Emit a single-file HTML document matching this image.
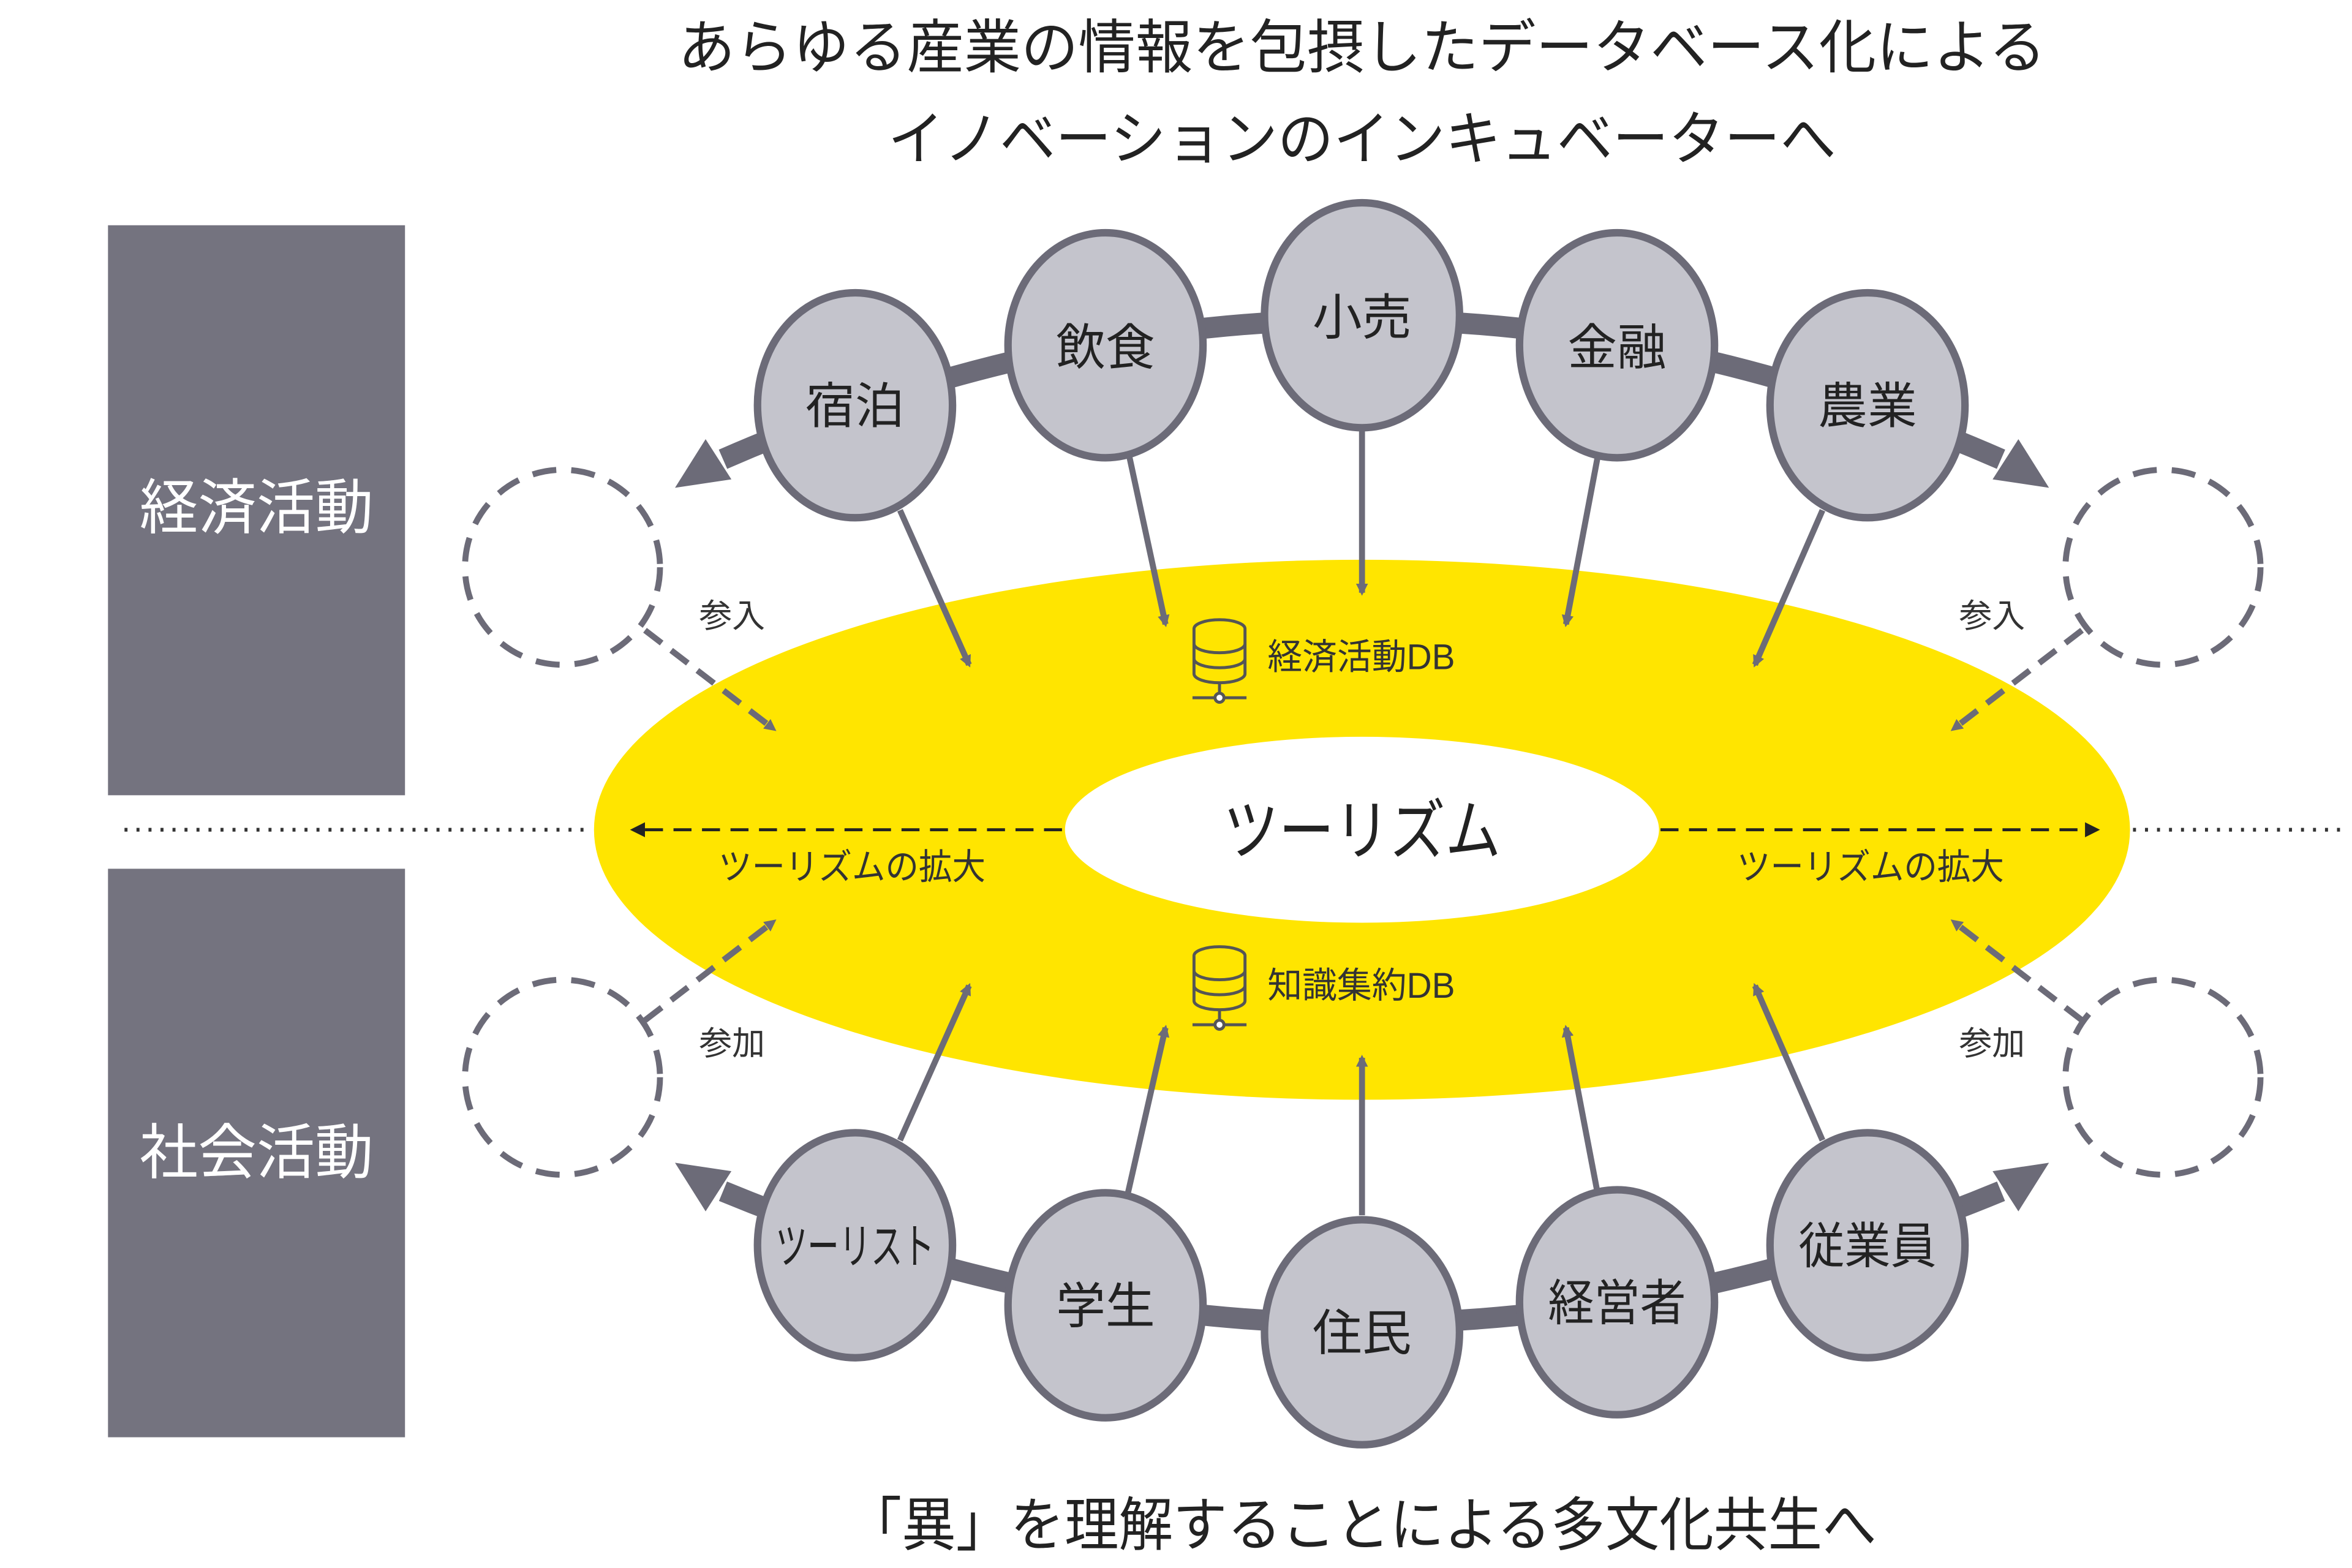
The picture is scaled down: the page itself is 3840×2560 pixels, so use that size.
<!DOCTYPE html>
<html><head><meta charset="utf-8"><style>
html,body{margin:0;padding:0;background:#fff;}
svg{display:block;}
text{font-family:"Liberation Sans","Noto Sans CJK JP",sans-serif;}
</style></head><body>
<svg width="3840" height="2560" viewBox="0 0 1568 1045" xmlns="http://www.w3.org/2000/svg">
<defs>
<marker id="ah" markerWidth="8" markerHeight="8" refX="6" refY="4" orient="auto" markerUnits="userSpaceOnUse">
<path d="M0,0 L8,4 L0,8 z" fill="#6c6b78"/></marker>
<marker id="ahk" markerWidth="10" markerHeight="10" refX="8" refY="5" orient="auto" markerUnits="userSpaceOnUse">
<path d="M0,0 L10,5 L0,10 z" fill="#222"/></marker>
<g id="db" fill="#ffe500" stroke="#555" stroke-width="2">
<ellipse cx="0" cy="-18" rx="17" ry="6"/>
<path d="M-17,-18 v30 a17,6 0 0 0 34,0 v-30"/>
<path d="M-17,-8 a17,6 0 0 0 34,0 M-17,2 a17,6 0 0 0 34,0" fill="none"/>
<path d="M0,18 v10 M-18,28 h36" fill="none"/>
<circle cx="0" cy="28" r="3" fill="#fff"/>
</g>
</defs>
<rect width="1568" height="1045" fill="#fff"/>
<!-- titles -->
<text x="908" y="45" font-size="39" text-anchor="middle" fill="#222" textLength="912" lengthAdjust="spacingAndGlyphs">あらゆる産業の情報を包摂したデータベース化による</text>
<text x="908" y="106" font-size="39" text-anchor="middle" fill="#222" textLength="632" lengthAdjust="spacingAndGlyphs">イノベーションのインキュベーターへ</text>
<text x="908" y="1030" font-size="39" text-anchor="middle" fill="#222" textLength="686" lengthAdjust="spacingAndGlyphs">「異」を理解することによる多文化共生へ</text>
<!-- left boxes -->
<rect x="72" y="150" width="198" height="380" fill="#74737f"/>
<rect x="72" y="579" width="198" height="379" fill="#74737f"/>
<text x="171" y="352" font-size="40" text-anchor="middle" fill="#fff" textLength="156" lengthAdjust="spacingAndGlyphs">経済活動</text>
<text x="171" y="782" font-size="40" text-anchor="middle" fill="#fff" textLength="156" lengthAdjust="spacingAndGlyphs">社会活動</text>
<!-- dotted lines -->
<line x1="83" y1="553" x2="395" y2="553" stroke="#333" stroke-width="2.5" stroke-dasharray="2,6"/>
<line x1="1422" y1="553" x2="1560" y2="553" stroke="#333" stroke-width="2.5" stroke-dasharray="2,6"/>
<!-- ellipses -->
<ellipse cx="908" cy="553" rx="512" ry="180" fill="#ffe500"/>
<ellipse cx="908" cy="553" rx="198" ry="62" fill="#fff"/>
<text x="908" y="569" font-size="44" text-anchor="middle" fill="#222" textLength="185" lengthAdjust="spacingAndGlyphs">ツーリズム</text>
<line x1="708" y1="553" x2="422" y2="553" stroke="#222" stroke-width="2" stroke-dasharray="12,7" marker-end="url(#ahk)"/>
<line x1="1107" y1="553" x2="1398" y2="553" stroke="#222" stroke-width="2" stroke-dasharray="12,7" marker-end="url(#ahk)"/>
<text x="568" y="586" font-size="24" text-anchor="middle" fill="#333" textLength="178" lengthAdjust="spacingAndGlyphs">ツーリズムの拡大</text>
<text x="1247" y="586" font-size="24" text-anchor="middle" fill="#333" textLength="178" lengthAdjust="spacingAndGlyphs">ツーリズムの拡大</text>
<use href="#db" x="813" y="437"/>
<use href="#db" x="813" y="655"/>
<text x="845" y="446" font-size="24" fill="#333" textLength="125" lengthAdjust="spacingAndGlyphs">経済活動DB</text>
<text x="845" y="665" font-size="24" fill="#333" textLength="125" lengthAdjust="spacingAndGlyphs">知識集約DB</text>
<!-- big arcs -->
<path d="M482,306 Q908,120 1334,306" fill="none" stroke="#6c6b78" stroke-width="14"/>
<path d="M482,794 Q908,970 1334,794" fill="none" stroke="#6c6b78" stroke-width="14"/>
<g fill="#6c6b78">
<polygon points="450,325 487.6,319.4 470.4,292.6"/>
<polygon points="1366,325 1328.4,319.4 1345.6,292.6"/>
<polygon points="450,775 487.6,780.6 470.4,807.4"/>
<polygon points="1366,775 1328.4,780.6 1345.6,807.4"/>
</g>
<!-- spoke arrows -->
<g stroke="#6c6b78" stroke-width="4" marker-end="url(#ah)">
<line x1="600" y1="340" x2="646" y2="443"/>
<line x1="752" y1="300" x2="777" y2="416"/>
<line x1="908" y1="285" x2="908" y2="395"/>
<line x1="1065" y1="305" x2="1044" y2="416"/>
<line x1="1215" y1="340" x2="1170" y2="443"/>
<line x1="600" y1="760" x2="646" y2="657"/>
<line x1="752" y1="795" x2="777" y2="685"/>
<line x1="908" y1="810" x2="908" y2="705"/>
<line x1="1065" y1="795" x2="1044" y2="685"/>
<line x1="1215" y1="760" x2="1170" y2="657"/>
</g>
<!-- dashed circles -->
<g fill="none" stroke="#6c6b78" stroke-width="4" stroke-dasharray="16,10">
<circle cx="375" cy="378" r="65"/><circle cx="375" cy="718" r="65"/>
<circle cx="1442" cy="378" r="65"/><circle cx="1442" cy="718" r="65"/>
</g>
<g stroke="#6c6b78" stroke-width="4" stroke-dasharray="14,8" marker-end="url(#ah)">
<line x1="430" y1="420" x2="516" y2="486"/>
<line x1="430" y1="680" x2="516" y2="614"/>
<line x1="1388" y1="420" x2="1302" y2="486"/>
<line x1="1388" y1="680" x2="1302" y2="614"/>
</g>
<g font-size="22" fill="#333" text-anchor="middle">
<text x="488" y="418">参入</text><text x="1328" y="418">参入</text>
<text x="488" y="703">参加</text><text x="1328" y="703">参加</text>
</g>
<!-- circles -->
<g fill="#c4c4cc" stroke="#6c6b78" stroke-width="5">
<ellipse cx="570" cy="270" rx="65" ry="75"/>
<ellipse cx="737" cy="230" rx="65" ry="75"/>
<ellipse cx="908" cy="210" rx="65" ry="75"/>
<ellipse cx="1078" cy="230" rx="65" ry="75"/>
<ellipse cx="1245" cy="270" rx="65" ry="75"/>
<ellipse cx="570" cy="830" rx="65" ry="75"/>
<ellipse cx="737" cy="870" rx="65" ry="75"/>
<ellipse cx="908" cy="888" rx="65" ry="75"/>
<ellipse cx="1078" cy="868" rx="65" ry="75"/>
<ellipse cx="1245" cy="830" rx="65" ry="75"/>
</g>
<g font-size="33" fill="#222" text-anchor="middle">
<text x="570" y="282">宿泊</text>
<text x="737" y="243">飲食</text>
<text x="908" y="223">小売</text>
<text x="1078" y="243">金融</text>
<text x="1245" y="282">農業</text>
<text x="570" y="842" font-size="32" textLength="106" lengthAdjust="spacingAndGlyphs">ツーリスト</text>
<text x="737" y="882">学生</text>
<text x="908" y="900">住民</text>
<text x="1078" y="880" textLength="92" lengthAdjust="spacingAndGlyphs">経営者</text>
<text x="1245" y="842" textLength="92" lengthAdjust="spacingAndGlyphs">従業員</text>
</g>
</svg>
</body></html>
